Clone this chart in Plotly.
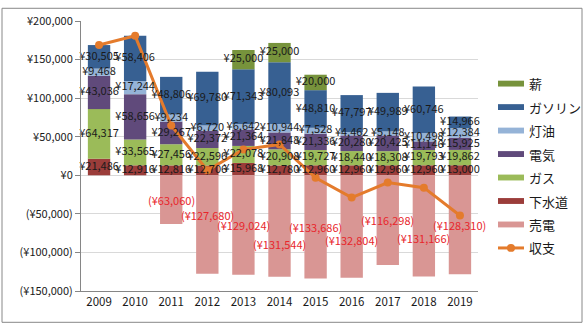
import plotly.graph_objects as go

# 年別の光熱費・燃料費と売電収入（円）
years = ["2009", "2010", "2011", "2012", "2013", "2014", "2015", "2016", "2017", "2018", "2019"]

sewer = [21486, 12916, 12816, 12706, 15968, 12780, 12960, 12960, 12960, 12960, 13000]      # 下水道
gas = [64317, 33565, 27456, 22596, 22078, 20908, 19727, 18440, 18308, 19793, 19862]        # ガス
electricity = [43036, 58656, 29267, 22372, 21364, 21848, 21336, 20280, 20425, 11146, 15925]  # 電気
kerosene = [9468, 17244, 9234, 6720, 6642, 10944, 7528, 4462, 5148, 10498, 12384]          # 灯油
gasoline = [30505, 58406, 48806, 69780, 71343, 80093, 48810, 47797, 49989, 60746, 14966]   # ガソリン
firewood = [None, None, None, None, 25000, 25000, 20000, None, None, None, None]           # 薪
power_sales = [None, None, -63060, -127680, -129024, -131544, -133686, -132804, -116298, -131166, -128310]  # 売電
balance = [168812, 180787, 64519, 6494, 33371, 40029, -3325, -28865, -9468, -16023, -52173]  # 収支

y_ticks = [-150000, -100000, -50000, 0, 50000, 100000, 150000, 200000]

# 年の並び順を横軸の位置として使う
xpos = list(range(len(years)))

# 積み上げ順（下から）
stack = [
    ("下水道", sewer, "#9B3D3A"),
    ("ガス", gas, "#9BBB59"),
    ("電気", electricity, "#604A7B"),
    ("灯油", kerosene, "#95B3D7"),
    ("ガソリン", gasoline, "#376092"),
    ("薪", firewood, "#77933C"),
]
sales_color = "#D99694"
line_color = "#E47B2C"
label_red = "#E8262B"
font_family = "Noto Sans CJK JP, Noto Sans, sans-serif"

# 売電ラベルの上下位置の微調整（px、下向きが正）
sales_label_nudge = [0, 0, 0, -10, 0, 18, 0, 13, 0, 12, 0]


def yen(v):
    s = "¥{:,.0f}".format(abs(v))
    return "({})".format(s) if v < 0 else s


fig = go.Figure()

for series_name, vals, color in stack:
    fig.add_trace(go.Bar(x=xpos, y=vals, name=series_name, marker=dict(color=color, line=dict(width=0)),
                         showlegend=False, hoverinfo="skip"))
fig.add_trace(go.Bar(x=xpos, y=power_sales, name="売電", marker=dict(color=sales_color, line=dict(width=0)),
                     showlegend=False, hoverinfo="skip"))
fig.add_trace(go.Scatter(x=xpos, y=balance, name="収支", mode="lines+markers",
                         line=dict(color=line_color, width=3),
                         marker=dict(color=line_color, size=8),
                         showlegend=False, hoverinfo="skip"))

# 積み上げ各区間の中央にラベル
stack_base = [0] * len(years)
for series_name, vals, color in stack:
    lx, ly, lt = [], [], []
    for i, v in enumerate(vals):
        if v is None:
            continue
        lx.append(xpos[i])
        ly.append(stack_base[i] + v / 2)
        lt.append(yen(v))
        stack_base[i] += v
    fig.add_trace(go.Scatter(x=lx, y=ly, text=lt, mode="text", textposition="middle center",
                             textfont=dict(size=11, color="#1a1a1a", family=font_family),
                             showlegend=False, hoverinfo="skip", cliponaxis=False))

annotations = []
for i, v in enumerate(power_sales):
    if v is None:
        continue
    annotations.append(dict(x=xpos[i], y=v / 2, xref="x", yref="y", text=yen(v), showarrow=False,
                            yshift=-sales_label_nudge[i],
                            font=dict(size=11, color=label_red, family=font_family)))

# 凡例（右側）
plot_l, plot_r, plot_t, plot_b = 81, 478, 15, 291
pw, ph = plot_r - plot_l, plot_b - plot_t


def px_x(p):
    return (p - plot_l) / pw


def px_y(p):
    return (plot_b - p) / ph


legend_items = [("薪", "#77933C"), ("ガソリン", "#376092"), ("灯油", "#95B3D7"), ("電気", "#604A7B"),
                ("ガス", "#9BBB59"), ("下水道", "#9B3D3A"), ("売電", sales_color), ("収支", None)]
shapes = []
for k, (item_name, color) in enumerate(legend_items):
    cy = 79 + 24 * k
    if color is not None:
        shapes.append(dict(type="rect", xref="paper", yref="paper",
                           x0=px_x(498), x1=px_x(524), y0=px_y(cy + 3), y1=px_y(cy - 3),
                           fillcolor=color, line=dict(width=0)))
    else:
        shapes.append(dict(type="line", xref="paper", yref="paper",
                           x0=px_x(498), x1=px_x(524), y0=px_y(cy), y1=px_y(cy),
                           line=dict(color=line_color, width=3)))
        shapes.append(dict(type="circle", xref="paper", yref="paper",
                           x0=px_x(507), x1=px_x(515), y0=px_y(cy + 4), y1=px_y(cy - 4),
                           fillcolor=line_color, line=dict(width=0)))
    annotations.append(dict(x=px_x(527), y=px_y(cy), xref="paper", yref="paper", text=item_name,
                            showarrow=False, xanchor="left", yanchor="middle",
                            font=dict(size=13, color="#1a1a1a", family=font_family)))

# 外枠
shapes.append(dict(type="rect", xref="paper", yref="paper",
                   x0=px_x(2), x1=px_x(582), y0=px_y(323), y1=px_y(2),
                   line=dict(color="#888888", width=1), fillcolor="rgba(0,0,0,0)", layer="below"))

fig.update_layout(
    width=585, height=326,
    margin=dict(l=plot_l, r=585 - plot_r, t=plot_t, b=326 - plot_b),
    paper_bgcolor="white", plot_bgcolor="white",
    barmode="relative", bargap=0.38,
    showlegend=False,
    font=dict(family=font_family, color="#1a1a1a"),
    shapes=shapes, annotations=annotations,
)
fig.update_xaxes(range=[-0.5, len(years) - 0.5], tickvals=xpos, ticktext=years,
                 showline=True, linecolor="#868686", linewidth=1, ticks="",
                 showgrid=False, zeroline=False, tickfont=dict(size=11.5, color="#1a1a1a"))
fig.update_yaxes(range=[-150000, 200000], tickvals=y_ticks, ticktext=[yen(v) for v in y_ticks],
                 showgrid=True, gridcolor="#D9D9D9", gridwidth=1, zeroline=False,
                 showline=True, linecolor="#868686", linewidth=1, ticks="outside", ticklen=5,
                 tickcolor="#868686", tickfont=dict(size=11, color="#1a1a1a"))

fig.write_html("out.html")
